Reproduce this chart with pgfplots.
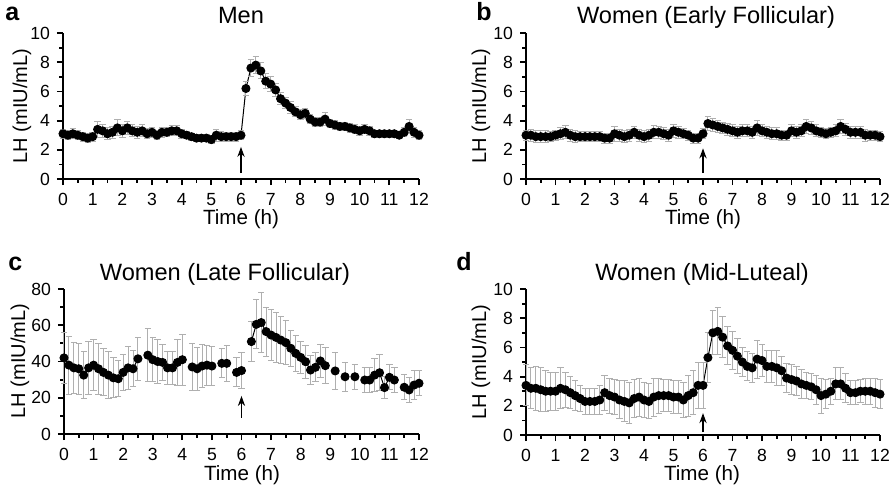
\documentclass[border=0pt]{standalone}
\usepackage{fontspec}
\setmainfont{Liberation Sans}
\usepackage{pgfplots}
\usepackage{pgfplotstable}
\pgfplotsset{compat=1.18}
\usetikzlibrary{arrows.meta}
\definecolor{ebar}{RGB}{175,175,175}

\pgfplotsset{
  lhpanel/.style={
    scale only axis, height=73pt,
    xmin=0, xmax=12, ymin=0,
    axis lines=left, axis line style={line width=1pt, -},
    xtick={0,...,12}, minor x tick num=1, minor y tick num=1,
    tick align=outside, major tick length=3pt, minor tick length=1.8pt,
    tick style={black, line width=0.9pt},
    tick label style={font=\fontsize{8.8}{10}\selectfont},
    xticklabel style={yshift=-0.5pt},
    /pgf/number format/assume math mode=true,
    clip=false, unbounded coords=jump,
  },
  lhdata/.style={black, line width=0.5pt, mark=*, mark size=2pt,
    error bars/.cd, y dir=both, y explicit,
    error bar style={ebar, line width=0.5pt},
    error mark options={ebar, rotate=90, mark size=1.6pt, line width=0.5pt}},
}
\tikzset{lharrow/.style={-{Stealth[length=5pt,width=3.6pt]}, line width=0.9pt}}

% LH, 10-min sampling: minute, mean, error
\pgfplotstableread{
m v e
0 3.1 .3
10 3.0 .3
20 3.1 .35
30 3.0 .3
40 2.9 .3
50 2.8 .3
60 2.9 .3
70 3.4 .55
80 3.3 .45
90 3.1 .4
100 3.2 .4
110 3.5 .55
120 3.3 .45
130 3.5 .45
140 3.3 .4
150 3.2 .4
160 3.3 .4
170 3.1 .35
180 3.2 .35
190 3.0 .3
200 3.2 .35
210 3.2 .3
220 3.3 .35
230 3.3 .35
240 3.1 .3
250 3.0 .25
260 2.9 .25
270 2.8 .25
280 2.8 .25
290 2.8 .25
300 2.7 .25
310 3.0 .4
320 2.9 .35
330 2.9 .3
340 2.9 .3
350 2.9 .3
360 3.0 .3
370 6.2 .5
380 7.6 .6
390 7.8 .6
400 7.4 .55
410 6.7 .5
420 6.5 .5
430 6.1 .45
440 5.5 .4
450 5.2 .4
460 4.9 .4
470 4.6 .35
480 4.4 .35
490 4.5 .35
500 4.1 .3
510 3.9 .3
520 3.9 .3
530 4.1 .45
540 3.8 .3
550 3.7 .3
560 3.6 .3
570 3.6 .3
580 3.5 .3
590 3.4 .3
600 3.3 .3
610 3.4 .3
620 3.3 .3
630 3.1 .25
640 3.1 .25
650 3.1 .25
660 3.1 .25
670 3.1 .25
680 3.0 .25
690 3.2 .3
700 3.6 .45
710 3.2 .35
720 3.0 .3
}\tabmen

\pgfplotstableread{
m v e
0 3.0 .35
10 3.0 .4
20 2.9 .4
30 2.9 .4
40 2.9 .4
50 2.9 .35
60 3.0 .35
70 3.1 .4
80 3.2 .45
90 3.0 .4
100 2.9 .4
110 2.9 .35
120 2.9 .35
130 2.9 .35
140 2.9 .35
150 2.9 .35
160 2.8 .35
170 2.8 .35
180 3.1 .5
190 3.0 .4
200 2.9 .4
210 3.0 .4
220 3.2 .4
230 3.0 .4
240 2.9 .4
250 3.0 .4
260 3.2 .45
270 3.2 .4
280 3.1 .4
290 3.0 .4
300 3.3 .45
310 3.2 .4
320 3.1 .35
330 3.0 .35
340 2.8 .35
350 2.8 .35
360 3.1 .35
370 3.8 .5
380 3.7 .45
390 3.6 .4
400 3.5 .4
410 3.4 .4
420 3.3 .4
430 3.2 .4
440 3.3 .4
450 3.3 .4
460 3.2 .4
470 3.5 .5
480 3.3 .4
490 3.2 .4
500 3.1 .4
510 3.1 .4
520 3.0 .35
530 3.0 .35
540 3.3 .4
550 3.2 .4
560 3.3 .4
570 3.6 .5
580 3.5 .45
590 3.3 .4
600 3.2 .35
610 3.1 .35
620 3.2 .35
630 3.3 .4
640 3.6 .45
650 3.4 .4
660 3.2 .4
670 3.2 .4
680 3.2 .4
690 3.0 .4
700 3.0 .35
710 3.0 .35
720 2.9 .35
}\tabearly

\pgfplotstableread{
m v e
0 42 14
10 38 16
20 36.5 14
30 36 14
40 32.5 13
50 36.5 14.5
60 38 14
70 36 14
80 34 13
90 32.5 13
100 31 11
110 30.5 10
120 34 10
130 36.5 12
140 36 10
150 41.5 12
160 nan nan
170 43.5 14.5
180 41 12
190 40 12
200 39.5 10
210 36.5 9
220 36.5 9
230 39.5 12.5
240 41 14
250 nan nan
260 37 13
270 36 12
280 37.5 12
290 38 11
300 37.5 11
310 nan nan
320 39 8
330 39 10
340 nan nan
350 34 8
360 35 10
370 nan nan
380 51 11
390 60.5 13.5
400 61.5 16.5
410 56.5 13.5
420 54.6 14
430 53.3 14
440 51.8 13
450 50.4 12
460 47.3 10
470 44.5 10
480 42.3 9
490 39.9 9
500 35.3 8
510 36.8 8
520 40.3 9
530 37.7 10
540 nan nan
550 34.8 10
560 nan nan
570 31.6 8
580 nan nan
590 31.6 7
600 nan nan
610 29.8 7
620 29.8 7
630 32.5 9
640 33.8 10
650 25.6 6
660 31.3 7
670 29.8 7
680 nan nan
690 25.8 7
700 24.3 7
710 27 8
720 28 7
}\tablate

\pgfplotstableread{
m v e
0 3.4 1.4
10 3.2 1.4
20 3.2 1.5
30 3.1 1.5
40 3.0 1.4
50 3.0 1.3
60 3.0 1.3
70 3.2 1.4
80 3.1 1.2
90 2.9 1.1
100 2.7 1.0
110 2.5 0.9
120 2.3 0.9
130 2.3 0.9
140 2.3 0.9
150 2.4 1.0
160 2.9 1.2
170 2.7 1.2
180 2.6 1.2
190 2.4 1.3
200 2.3 1.4
210 2.2 1.4
220 2.5 1.3
230 2.6 1.3
240 2.4 1.2
250 2.3 1.2
260 2.6 1.3
270 2.7 1.2
280 2.7 1.1
290 2.7 1.1
300 2.6 1.1
310 2.6 1.1
320 2.4 1.2
330 2.7 1.4
340 2.9 1.5
350 3.4 1.6
360 3.4 1.6
370 5.3 1.7
380 7.0 1.5
390 7.1 1.6
400 6.7 1.4
410 6.1 1.3
420 5.8 1.3
430 5.4 1.2
440 5.0 1.0
450 4.7 1.0
460 4.6 1.0
470 5.2 1.3
480 5.1 1.1
490 4.7 1.1
500 4.7 1.1
510 4.6 1.2
520 4.4 1.0
530 3.9 1.0
540 3.8 1.0
550 3.7 1.0
560 3.5 1.0
570 3.4 0.9
580 3.3 0.9
590 3.1 1.0
600 2.7 1.2
610 2.8 1.0
620 3.0 0.9
630 3.5 1.1
640 3.5 1.1
650 3.2 1.0
660 2.9 0.8
670 2.9 0.8
680 3.0 0.8
690 3.0 0.9
700 3.0 0.9
710 2.9 1.0
720 2.8 1.0
}\tabluteal

\begin{document}
\begin{tikzpicture}
\useasboundingbox (0,0) rectangle (446pt,-247pt);

% panel a
\begin{axis}[lhpanel, at={(31.5pt,-89.5pt)}, anchor=south west, width=178pt,
  ymax=10, ytick={0,2,...,10}]
\addplot[lhdata] table[x expr=\thisrow{m}/60, y=v, y error=e] {\tabmen};
\draw[lharrow] (axis cs:6,0.4) -- (axis cs:6,2.2);
\end{axis}

% panel b
\begin{axis}[lhpanel, at={(263pt,-89.5pt)}, anchor=south west, width=177pt,
  ymax=10, ytick={0,2,...,10}]
\addplot[lhdata] table[x expr=\thisrow{m}/60, y=v, y error=e] {\tabearly};
\draw[lharrow] (axis cs:6,0.4) -- (axis cs:6,2.1);
\end{axis}

% panel c
\begin{axis}[lhpanel, at={(32pt,-217pt)}, anchor=south west, width=177.5pt,
  height=72.5pt, ymax=80, ytick={0,20,...,80}]
\addplot[lhdata] table[x expr=\thisrow{m}/60, y=v, y error=e] {\tablate};
\draw[lharrow] (axis cs:6,9) -- (axis cs:6,21);
\end{axis}

% panel d
\begin{axis}[lhpanel, at={(263pt,-217.5pt)}, anchor=south west, width=177pt,
  ymax=10, ytick={0,2,...,10}]
\addplot[lhdata] table[x expr=\thisrow{m}/60, y=v, y error=e] {\tabluteal};
\draw[lharrow] (axis cs:6,0.2) -- (axis cs:6,1.5);
\end{axis}

% panel letters and titles
\begin{scope}[every node/.style={inner sep=0pt}]
\node[anchor=base west, font=\fontsize{12.5}{14}\selectfont\bfseries] at (2.5pt,-10pt) {a};
\node[anchor=base west, font=\fontsize{12.5}{14}\selectfont\bfseries] at (238pt,-10pt) {b};
\node[anchor=base west, font=\fontsize{12.5}{14}\selectfont\bfseries] at (4pt,-135pt) {c};
\node[anchor=base west, font=\fontsize{12.5}{14}\selectfont\bfseries] at (228pt,-135pt) {d};
\node[anchor=base, font=\fontsize{11.8}{13}\selectfont] at (120.5pt,-11.5pt) {Men};
\node[anchor=base, font=\fontsize{11.8}{13}\selectfont] at (353pt,-11.5pt) {Women (Early Follicular)};
\node[anchor=base, font=\fontsize{11.8}{13}\selectfont] at (112.5pt,-140pt) {Women (Late Follicular)};
\node[anchor=base, font=\fontsize{11.8}{13}\selectfont] at (351pt,-140pt) {Women (Mid-Luteal)};
\foreach \lx/\ly in {11/53, 240.5/53, 10/180.5, 240.5/181}
  \node[rotate=90, font=\fontsize{10}{11}\selectfont] at (\lx pt,-\ly pt) {LH (mIU/mL)};
\foreach \lx/\ly in {120.5/109.8, 351.5/109.8, 121/237.8, 351/237.8}
  \node[font=\fontsize{10.3}{12}\selectfont] at (\lx pt,-\ly pt) {Time (h)};
\end{scope}
\end{tikzpicture}
\end{document}
